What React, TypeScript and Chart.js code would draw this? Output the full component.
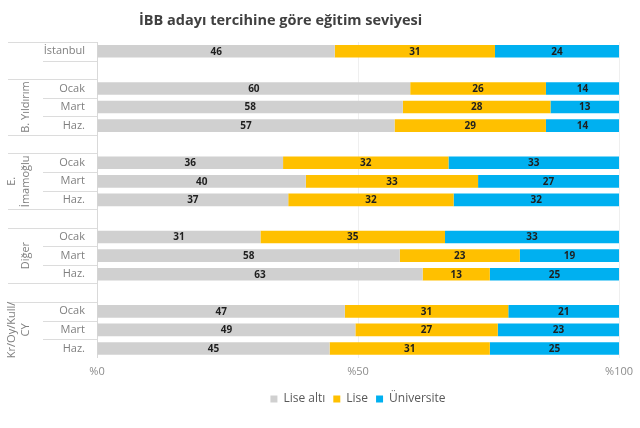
import { useEffect, useRef } from 'react';
import { Chart, registerables } from 'chart.js';

Chart.register(...registerables);

// satırlar (boş satırlar gruplar arası boşluk)
const rowLabels = ['İstanbul', '', 'Ocak', 'Mart', 'Haz.', '', 'Ocak', 'Mart', 'Haz.', '', 'Ocak', 'Mart', 'Haz.', '', 'Ocak', 'Mart', 'Haz.'];

const liseAlti = [46, null, 60, 58, 57, null, 36, 40, 37, null, 31, 58, 63, null, 47, 49, 45];
const lise = [31, null, 26, 28, 29, null, 32, 33, 32, null, 35, 23, 13, null, 31, 27, 31];
const universite = [24, null, 14, 13, 14, null, 33, 27, 32, null, 33, 19, 25, null, 21, 23, 25];

// dış kategori grupları ve kaç satır kapladıkları
const groupLabels = [[''], ['B. Yıldırım'], [''], ['E.', 'İmamoğlu'], [''], ['Diğer'], [''], ['Kr/Oy/Kull/', 'CY']];
const groupSizes = [2, 3, 1, 3, 1, 3, 1, 3];

const seriesNames = ['Lise altı', 'Lise', 'Üniversite'];
const seriesColors = ['#d0d0d0', '#ffc000', '#00b0f0'];

const FONT = '"Open Sans", sans-serif';

export default function App() {
    const canvasRef = useRef<HTMLCanvasElement | null>(null);
    const chartInstance = useRef<Chart | null>(null);

    useEffect(() => {
        if (!canvasRef.current) return;
        const raw = [liseAlti, lise, universite];
        const totals = rowLabels.map((_, i) => raw.reduce((s, arr) => s + (arr[i] ?? 0), 0));

        const valueLabels = {
            id: 'valueLabels',
            afterDatasetsDraw(chart: any) {
                const ctx = chart.ctx;
                ctx.save();
                ctx.font = `bold 10px ${FONT}`;
                ctx.fillStyle = '#1f1f1f';
                ctx.textAlign = 'center';
                ctx.textBaseline = 'middle';
                chart.data.datasets.forEach((ds: any, di: number) => {
                    const meta = chart.getDatasetMeta(di);
                    meta.data.forEach((el: any, i: number) => {
                        const v = raw[di][i];
                        if (v == null) return;
                        ctx.fillText(String(v), (el.x + el.base) / 2, el.y + 0.5);
                    });
                });
                ctx.restore();
            },
        };

        const categoryTable = {
            id: 'categoryTable',
            afterDraw(chart: any) {
                const ctx = chart.ctx;
                const y = chart.scales.y;
                const area = chart.chartArea;
                const step = y.getPixelForValue(1) - y.getPixelForValue(0);
                const boundary = (i: number) => y.getPixelForValue(i) - step / 2;
                ctx.save();
                ctx.strokeStyle = '#dcdcdc';
                ctx.lineWidth = 1;
                const hline = (yy: number, x0: number) => {
                    const py = Math.round(yy) + 0.5;
                    ctx.beginPath();
                    ctx.moveTo(x0, py);
                    ctx.lineTo(area.left, py);
                    ctx.stroke();
                };
                hline(area.top, 8);
                let start = 0;
                groupSizes.forEach((size, g) => {
                    for (let k = 1; k < size; k++) hline(boundary(start + k), 43);
                    const end = start + size;
                    if (end < rowLabels.length) hline(boundary(end), 8);

                    // grup etiketi, dikey
                    const lines = groupLabels[g];
                    const cy = (y.getPixelForValue(start) + y.getPixelForValue(end - 1)) / 2;
                    ctx.fillStyle = '#7f7f7f';
                    ctx.font = `11px ${FONT}`;
                    ctx.textAlign = 'center';
                    ctx.textBaseline = 'middle';
                    lines.forEach((t, li) => {
                        const cx = 26 - (lines.length - 1 - li) * 14;
                        ctx.save();
                        ctx.translate(cx, cy);
                        ctx.rotate(-Math.PI / 2);
                        ctx.fillText(t, 0, 0);
                        ctx.restore();
                    });
                    start = end;
                });
                ctx.restore();
            },
        };

        chartInstance.current = new Chart(canvasRef.current, {
            type: 'bar',
            data: {
                labels: rowLabels,
                datasets: raw.map((arr, di) => ({
                    label: seriesNames[di],
                    data: arr.map((v, i) => (v == null ? null : (v / totals[i]) * 100)),
                    backgroundColor: seriesColors[di],
                    borderWidth: 0,
                    barPercentage: 0.68,
                    categoryPercentage: 1,
                })),
            },
            options: {
                indexAxis: 'y',
                animation: false,
                responsive: true,
                maintainAspectRatio: false,
                layout: { padding: { top: 42, right: 19, left: 0, bottom: 13 } },
                scales: {
                    x: {
                        stacked: true,
                        min: 0,
                        max: 100,
                        ticks: {
                            stepSize: 50,
                            padding: 7,
                            color: '#8c8c8c',
                            font: { family: FONT, size: 11 },
                            callback: (v: any) => '%' + v,
                        },
                        grid: {
                            drawTicks: false,
                            color: (c: any) => (c.tick && c.tick.value === 0 ? '#d9d9d9' : '#efefef'),
                        },
                        border: { display: false },
                    },
                    y: {
                        stacked: true,
                        ticks: {
                            padding: 12,
                            color: '#7f7f7f',
                            font: { family: FONT, size: 11 },
                            autoSkip: false,
                        },
                        grid: { display: false, drawTicks: false },
                        border: { display: false },
                        afterFit: (scale: any) => {
                            scale.width = 97;
                        },
                    },
                },
                plugins: {
                    legend: {
                        position: 'bottom',
                        fullSize: false,
                        labels: {
                            boxWidth: 7,
                            boxHeight: 7,
                            padding: 8,
                            color: '#595959',
                            font: { family: FONT, size: 12 },
                        },
                    },
                    tooltip: { enabled: false },
                },
            },
            plugins: [valueLabels, categoryTable],
        });

        return () => {
            if (chartInstance.current) {
                chartInstance.current.destroy();
                chartInstance.current = null;
            }
        };
    }, []);

    return (
        <div style={{ position: 'absolute', left: 0, top: 0, width: 640, height: 428, background: '#fff' }}>
            <div
                style={{
                    position: 'absolute',
                    left: 139,
                    top: 10,
                    fontFamily: FONT,
                    fontWeight: 'bold',
                    fontSize: 14.5,
                    lineHeight: '20px',
                    color: '#404040',
                    whiteSpace: 'nowrap',
                }}
            >
                İBB adayı tercihine göre eğitim seviyesi
            </div>
            <canvas ref={canvasRef}></canvas>
        </div>
    );
}
